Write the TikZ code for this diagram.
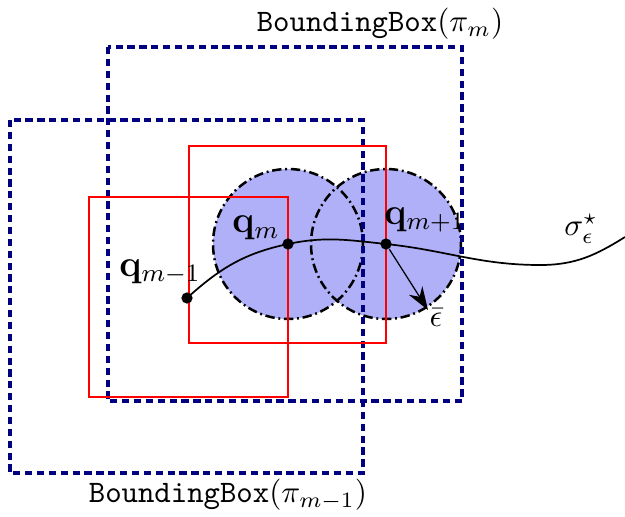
\documentclass[tikz,border=0pt]{standalone}
\usepackage{amsmath,amssymb}
\usetikzlibrary{arrows.meta,positioning}
\definecolor{navy}{HTML}{000080}
\definecolor{disk}{HTML}{B0B0F8}

\begin{document}
\begin{tikzpicture}[
  x=0.32pt,y=-0.32pt,
  bbox/.style={draw=navy,line width=1pt,dash pattern=on 2.3pt off 1.5pt},
  cell/.style={draw=red},
  ball/.style={draw=black,thick,dash pattern=on 3pt off 1.2pt on 0.6pt off 1.2pt},
  dot/.style={circle,fill=black,inner sep=0pt,minimum size=3.6pt},
  ptlabel/.style={font=\large}
]
\useasboundingbox (0,0) rectangle (625,516);
% balls around the points
\fill[disk] (288,244) circle (75);
\fill[disk] (386,244) circle (75);
\draw[ball] (288,244) circle (75);
\draw[ball] (386,244) circle (75);
% bounding boxes
\draw[bbox] (10,120) rectangle (363,473);
\draw[bbox] (108,47) rectangle (462,401);
\draw[cell,line width=0.75pt] (89,197) rectangle (288,397);
\draw[cell,line width=0.4pt] (189,146) rectangle (386,343);
% points on the path
\node[dot] (qa) at (187,298) {};
\node[dot] (qb) at (288,244) {};
\node[dot] (qc) at (386,244) {};
\coordinate (dip) at (540,265);
\coordinate (pend) at (625,237);
\coordinate (eps) at (428,310);
\draw[line width=0.55pt] (qa.center) to[out=42,in=192] (qb.center) to[out=12,in=174] (qc.center)
  to[out=-6,in=180] (dip) to[out=0,in=212] (pend);
\draw[-{Stealth[length=2.6mm,width=1.8mm]}] (qc) -- (eps);
% labels
\node[ptlabel] (la) at (160,272) {$\mathbf{q}_{m-1}$};
\node[ptlabel] (lb) at (256,228) {$\mathbf{q}_{m}$};
\node[ptlabel] (lc) at (425,220) {$\mathbf{q}_{m+1}$};
\node (ls) at (581,229) {$\sigma^{\star}_{\epsilon}$};
\node (le) at (436,318) {$\bar{\epsilon}$};
\node (tb) at (380,24) {\texttt{BoundingBox}$(\pi_m)$};
\node (ta) at (228,495) {\texttt{BoundingBox}$(\pi_{m-1})$};
\end{tikzpicture}
\end{document}
